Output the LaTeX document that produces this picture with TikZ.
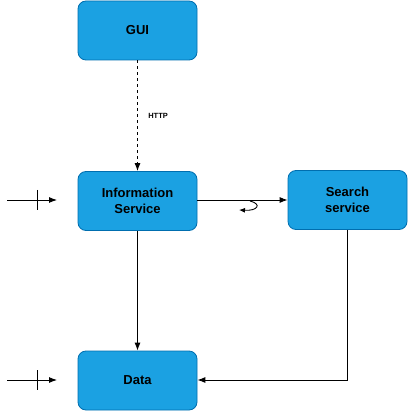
\documentclass[tikz,border=0pt]{standalone}
\usepackage{fontspec}
\setmainfont{Liberation Sans}
\usetikzlibrary{arrows.meta}
\definecolor{boxfill}{HTML}{1BA1E2}
\definecolor{boxline}{HTML}{006EAF}
\begin{document}
\begin{tikzpicture}[x=1pt,y=-1pt,
  box/.style={draw=boxline,fill=boxfill,rounded corners=8pt,minimum width=119pt,minimum height=59pt,inner sep=0pt,align=center,font=\fontsize{13}{16}\selectfont\bfseries,line width=0.8pt},
  conn/.style={draw=black,line width=0.9pt,-{Latex[length=8pt,width=6pt]}}]
\useasboundingbox (0,0) rectangle (408,411);
\node[box] (gui) at (137.5,30.5) {GUI};
\node[box] (info) at (137.5,201) {Information\\Service};
\node[box] (search) at (347.5,200) {Search\\service};
\node[box] (data) at (137.5,380.5) {Data};
\draw[conn,dashed] (gui) -- node[right=7pt,font=\fontsize{7.5}{8}\selectfont\bfseries,pos=0.5]{HTTP} (info);
\draw[conn] (info.east |- 0,200) -- (search.west |- 0,200);
\draw[conn] (info) -- (data);
\draw[conn] (search.south) |- (data.east |- 0,380);
\coordinate (a1) at (7,200);
\coordinate (a2) at (57,200);
\coordinate (b1) at (7,380);
\coordinate (b2) at (57,380);
\draw[conn] (a1) -- (a2);
\draw[line width=0.9pt] (37,190) -- (37,210);
\draw[conn] (b1) -- (b2);
\draw[line width=0.9pt] (37,370) -- (37,390);
\coordinate (c1) at (250,201);
\coordinate (c2) at (239,210);
\draw[conn,-{Latex[length=6pt,width=5pt]}] (c1) .. controls (262,204) and (258,211) .. (c2);
\end{tikzpicture}
\end{document}
